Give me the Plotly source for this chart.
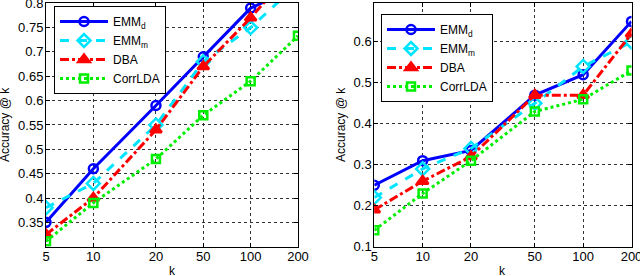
import plotly.graph_objects as go

# ---- data ----
k_labels = ["5", "10", "20", "50", "100", "200"]
# positions on the (log) k axis where the source draws each category
left_k_plotted = [5, 10, 25, 50, 100, 200]
right_k_plotted = [5, 10, 20, 50, 100, 200]

series_names = ["EMM<sub>d</sub>", "EMM<sub>m</sub>", "DBA", "CorrLDA"]

left_emm_d = [0.35, 0.46, 0.59, 0.69, 0.79, 0.835]
left_emm_m = [0.38, 0.43, 0.55, 0.68, 0.75, 0.84]
left_dba = [0.325, 0.40, 0.54, 0.67, 0.77, 0.88]
left_corrlda = [0.311, 0.39, 0.48, 0.57, 0.64, 0.733]

right_emm_d = [0.25, 0.31, 0.335, 0.47, 0.52, 0.65]
right_emm_m = [0.22, 0.29, 0.34, 0.45, 0.54, 0.60]
right_dba = [0.19, 0.26, 0.32, 0.47, 0.47, 0.62]
right_corrlda = [0.14, 0.23, 0.31, 0.43, 0.46, 0.53]

left_yticks = [0.35, 0.4, 0.45, 0.5, 0.55, 0.6, 0.65, 0.7, 0.75, 0.8]
right_yticks = [0.1, 0.2, 0.3, 0.4, 0.5, 0.6]

# ---- styles ----
styles = [
    dict(color="#0000ff", dash="solid", symbol="circle-open", msize=9),
    dict(color="#00e5ff", dash="dash", symbol="diamond-open", msize=10),
    dict(color="#ff0000", dash="dashdot", symbol="triangle-up", msize=10),
    dict(color="#00ee00", dash="dot", symbol="square-open", msize=8),
]

fig = go.Figure()

left_sets = [left_emm_d, left_emm_m, left_dba, left_corrlda]
right_sets = [right_emm_d, right_emm_m, right_dba, right_corrlda]

for name, vals, st in zip(series_names, left_sets, styles):
    fig.add_trace(go.Scatter(
        x=left_k_plotted, y=vals, name=name, mode="lines+markers",
        line=dict(color=st["color"], dash=st["dash"], width=3),
        marker=dict(symbol=st["symbol"], size=st["msize"], color=st["color"],
                    line=dict(color=st["color"], width=2.5)),
        xaxis="x", yaxis="y", legend="legend", cliponaxis=True,
    ))
for name, vals, st in zip(series_names, right_sets, styles):
    fig.add_trace(go.Scatter(
        x=right_k_plotted, y=vals, name=name, mode="lines+markers",
        line=dict(color=st["color"], dash=st["dash"], width=3),
        marker=dict(symbol=st["symbol"], size=st["msize"], color=st["color"],
                    line=dict(color=st["color"], width=2.5)),
        xaxis="x2", yaxis="y2", legend="legend2", cliponaxis=True,
    ))

W, H = 640, 276
FAM = "Liberation Sans, Arial, sans-serif"
font = dict(family=FAM, size=12, color="#000000")
tickfont = dict(family=FAM, size=13, color="#000000")

def xaxis(domain, kpos, anchor):
    return dict(
        domain=domain, anchor=anchor, type="log",
        range=[0.69897, 2.30103],
        tickvals=kpos, ticktext=k_labels,
        showline=True, linecolor="#000000", linewidth=1, mirror="allticks",
        ticks="inside", ticklen=4, tickcolor="#000000",
        showgrid=True, gridcolor="#333333", griddash="dot", gridwidth=1,
        zeroline=False, automargin=False, tickfont=tickfont,
        ticklabeloverflow="allow", ticklabelstandoff=-2,
    )

def yaxis(rng, ticks, anchor):
    return dict(
        domain=[1 - 246.7 / H, 1 - 3 / H], anchor=anchor,
        range=rng, tickvals=ticks, ticktext=[f"{t:g}" for t in ticks],
        showline=True, linecolor="#000000", linewidth=1, mirror="allticks",
        ticks="inside", ticklen=4, tickcolor="#000000",
        showgrid=True, gridcolor="#333333", griddash="dot", gridwidth=1,
        zeroline=False, automargin=False, tickfont=tickfont,
        ticklabeloverflow="allow", ticklabelstandoff=-1,
    )

legend_common = dict(
    bgcolor="#ffffff", bordercolor="#000000", borderwidth=1,
    font=dict(family=FAM, size=12, color="#000000"),
    xanchor="left", yanchor="top", itemwidth=48, tracegroupgap=0,
)

annotations = []
for cx in [(46 + 298) / 2, (374.3 + 631.5) / 2]:
    annotations.append(dict(text="k", x=cx / W, y=1 - 270.5 / H, xref="paper", yref="paper",
                            showarrow=False, font=font, xanchor="center", yanchor="middle"))
for cx in [5, 341]:
    annotations.append(dict(text="Accuracy @ k", x=cx / W, y=1 - 125 / H, xref="paper", yref="paper",
                            showarrow=False, font=font, textangle=-90,
                            xanchor="center", yanchor="middle"))

fig.update_layout(
    width=W, height=H,
    margin=dict(l=0, r=0, t=0, b=0),
    paper_bgcolor="#ffffff", plot_bgcolor="#ffffff",
    font=font,
    xaxis=xaxis([46 / W, 298 / W], left_k_plotted, "y"),
    yaxis=yaxis([0.30, 0.8005], left_yticks, "x"),
    xaxis2=xaxis([374.3 / W, 631.5 / W], right_k_plotted, "y2"),
    yaxis2=yaxis([0.10, 0.695], right_yticks, "x2"),
    legend=dict(x=54 / W, y=1 - 6 / H, **legend_common),
    legend2=dict(x=381 / W, y=1 - 14 / H, **legend_common),
    annotations=annotations,
    showlegend=True,
)

fig.write_html("out.html", include_plotlyjs=True, config={"displayModeBar": False},
               post_script="document.body.style.margin='0';document.body.style.overflow='hidden';")
